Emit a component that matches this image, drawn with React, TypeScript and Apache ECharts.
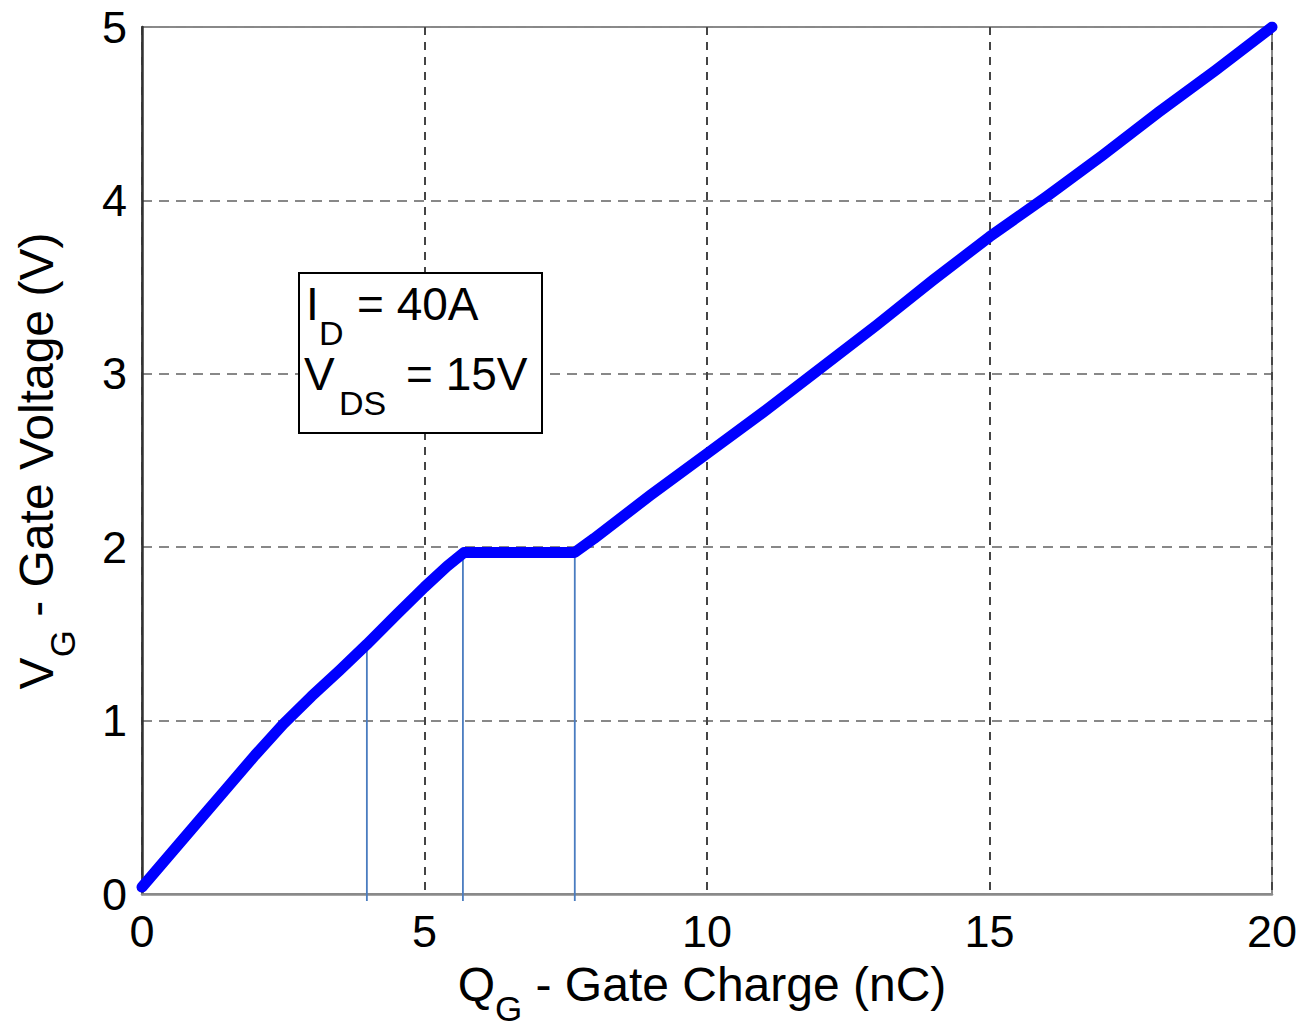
import React, { useEffect, useRef } from "react";
import * as echarts from "echarts";

// Gate charge curve (Q_G in nC, V_G in V)
const gateCharge = [0, 0.5, 1, 1.5, 2, 2.5, 3, 3.5, 3.98, 4.5, 5, 5.4, 5.7, 7.66, 8, 9, 10, 11, 11.88, 13, 14, 15, 16, 17, 18, 19, 20];
const gateVoltage = [0.04, 0.23, 0.42, 0.61, 0.8, 0.98, 1.14, 1.29, 1.44, 1.61, 1.77, 1.89, 1.97, 1.97, 2.05, 2.3, 2.54, 2.78, 3.0, 3.28, 3.54, 3.79, 4.02, 4.26, 4.51, 4.75, 5.0];

// thin vertical marker lines
const markerCharges = [3.98, 5.68, 7.66];
const markerTops = [1.44, 1.98, 1.98];
const markerBottom = -0.04;

const xMin = 0, xMax = 20, xStep = 5;
const yMin = 0, yMax = 5, yStep = 1;

const FONT = "'Liberation Sans', Arial, Helvetica, sans-serif";

function measure(text: string, size: number): number {
  const c = document.createElement("canvas").getContext("2d")!;
  c.font = `${size}px ${FONT}`;
  return c.measureText(text).width;
}

type Seg = { text: string; size: number; dy: number };

function layoutSegs(segs: Seg[]) {
  const widths = segs.map((s) => measure(s.text, s.size));
  const total = widths.reduce((a, b) => a + b, 0);
  let x = -total / 2;
  return segs.map((s, i) => {
    const el = {
      type: "text",
      x,
      y: s.dy,
      style: {
        text: s.text,
        font: `${s.size}px ${FONT}`,
        fill: "#000",
        align: "left",
        verticalAlign: "middle",
      },
    };
    x += widths[i];
    return el;
  });
}

function textAt(text: string, x: number, y: number, size: number) {
  return {
    type: "text",
    x,
    y,
    z: 101,
    style: { text, font: `${size}px ${FONT}`, fill: "#000", align: "left", verticalAlign: "middle" },
  };
}

export default function App() {
  const ref = useRef<HTMLDivElement>(null);

  useEffect(() => {
    document.body.style.margin = "0";
    const chart = echarts.init(ref.current!, null, { renderer: "svg" });

    const curve = gateCharge.map((q, i) => [q, gateVoltage[i]]);
    const markerSeries = markerCharges.map((q, i) => ({
      type: "line",
      data: [
        [q, markerBottom],
        [q, markerTops[i]],
      ],
      symbol: "none",
      clip: false,
      z: 3,
      lineStyle: { color: "#4a7cc0", width: 1.8 },
      silent: true,
    }));

    const xTitle = layoutSegs([
      { text: "Q", size: 48, dy: 0 },
      { text: "G", size: 35, dy: 24 },
      { text: " - Gate Charge (nC)", size: 48, dy: 0 },
    ]);
    const yTitle = layoutSegs([
      { text: "V", size: 48, dy: 0 },
      { text: "G", size: 35, dy: 26 },
      { text: " - Gate Voltage (V)", size: 48, dy: 0 },
    ]);

    chart.setOption({
      animation: false,
      backgroundColor: "#fff",
      grid: {
        left: 142,
        right: 33,
        top: 27,
        bottom: 134,
        show: true,
        borderColor: "#8a8a8a",
        borderWidth: 2,
        containLabel: false,
      },
      xAxis: {
        type: "value",
        min: xMin,
        max: xMax,
        interval: xStep,
        axisLine: { show: true, lineStyle: { color: "#8a8a8a", width: 2.5 } },
        axisTick: { show: false },
        axisLabel: { fontSize: 45, color: "#000", fontFamily: FONT, margin: 15 },
        splitLine: { show: true, lineStyle: { color: "#444", width: 2, type: [8, 7] } },
      },
      yAxis: {
        type: "value",
        min: yMin,
        max: yMax,
        interval: yStep,
        axisLine: { show: true, lineStyle: { color: "#333", width: 2.5 } },
        axisTick: { show: false },
        axisLabel: { fontSize: 45, color: "#000", fontFamily: FONT, margin: 15 },
        splitLine: { show: true, lineStyle: { color: "#888", width: 2, type: [10, 7] } },
      },
      series: [
        ...markerSeries,
        {
          type: "line",
          data: curve,
          symbol: "none",
          z: 5,
          lineStyle: { color: "#0000ff", width: 11, join: "round", cap: "round" },
          silent: true,
        },
      ],
      graphic: [
        {
          type: "rect",
          z: 100,
          shape: { x: 299, y: 273, width: 243, height: 160 },
          style: { fill: "#fff", stroke: "#000", lineWidth: 2 },
        },
        textAt("I", 306, 304, 46),
        textAt("D", 319, 333, 34),
        textAt("= 40A", 357, 304, 46),
        textAt("V", 304, 374, 46),
        textAt("DS", 339, 403, 34),
        textAt("= 15V", 406, 374, 46),
        { type: "group", x: 702, y: 984, children: xTitle },
        { type: "group", x: 36, y: 461, rotation: Math.PI / 2, children: yTitle },
      ],
    });

    return () => chart.dispose();
  }, []);

  return <div ref={ref} style={{ width: 1305, height: 1028 }} />;
}
